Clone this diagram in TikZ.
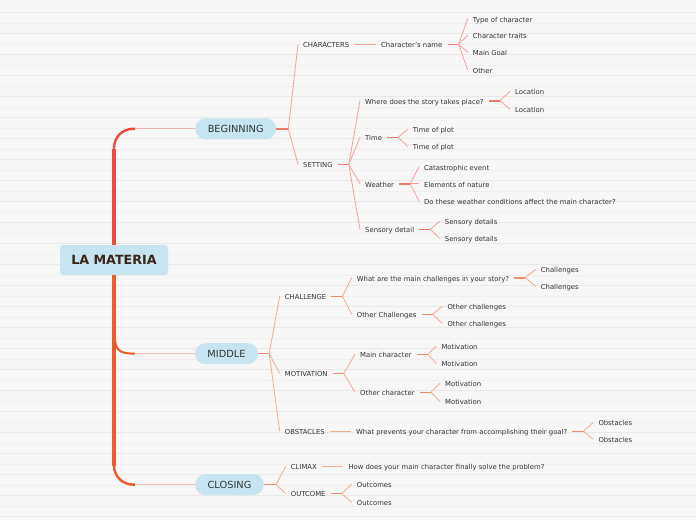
\documentclass[tikz,border=0pt]{standalone}
\usepackage{fontspec}
\setmainfont{DejaVu Sans}
\usetikzlibrary{positioning,calc}

\definecolor{bgcol}{HTML}{F7F7F7}
\definecolor{ruleA}{HTML}{E9E9E9}
\definecolor{ruleB}{HTML}{EFEFEF}
\definecolor{nodeblue}{HTML}{C6E5F0}
\definecolor{titlecol}{HTML}{3B2418}
\definecolor{textcol}{HTML}{333333}
\definecolor{trunkred}{HTML}{EF4A3E}
\definecolor{trunkorange}{HTML}{EF5A2A}
\definecolor{stemA}{HTML}{F6B2AA}
\definecolor{stemB}{HTML}{F7C4B0}
\definecolor{fanpink}{HTML}{F4A399}
\definecolor{junpink}{HTML}{F0776B}
\definecolor{fanorange}{HTML}{F6AC8E}
\definecolor{junorange}{HTML}{F28C6C}

\begin{document}
\begin{tikzpicture}[
    x=1pt, y=-1pt,
    root/.style={fill=nodeblue, rounded corners=3pt, minimum width=108pt, minimum height=30pt, text=titlecol, font=\fontsize{12.7}{14}\selectfont\bfseries},
    topic/.style={fill=nodeblue, rounded corners=10.5pt, minimum height=21pt, inner xsep=12.5pt, text=textcol, font=\fontsize{9.8}{12}\selectfont},
    leaf/.style={anchor=west, inner xsep=5pt, inner ysep=0pt, text height=6.6pt, text depth=0pt, text=textcol, font=\fontsize{6.85}{8}\selectfont},
    fanA/.style={draw=fanpink, line width=0.8pt},
    junA/.style={draw=junpink, line width=1.6pt},
    fanB/.style={draw=fanorange, line width=0.8pt},
    junB/.style={draw=junorange, line width=1.6pt},
    trunk/.style={line width=2.4pt, rounded corners=19pt}
]

% Background
\useasboundingbox (0,0) rectangle (696,520);
\fill[bgcol] (0,0) rectangle (696,520);
\foreach \i in {0,...,24} {
    \draw[ruleA, line width=0.6pt] (0,12.3+21*\i) -- (696,12.3+21*\i);
    \draw[ruleB, line width=0.6pt] (0,22.8+21*\i) -- (696,22.8+21*\i);
}

% Root and topics
\node[root] (materia) at (114,260) {LA MATERIA};
\node[topic] (beginning) at (235.7,128.8) {BEGINNING};
\node[topic] (middle) at (226.5,353.6) {MIDDLE};
\node[topic] (closing) at (229.5,484.6) {CLOSING};

% Trunk
\coordinate (bendA) at ($(beginning.west)+(-60,0)$);
\coordinate (bendB) at ($(middle.west)+(-60,0)$);
\coordinate (bendC) at ($(closing.west)+(-60,0)$);
\coordinate (turnA) at ($(materia.north)+(0,-96)$);
\coordinate (turnC) at ($(materia.south)+(0,191)$);
\coordinate (midfork) at ($(materia.south)+(1,62)$);
\draw[trunk, trunkred] (materia.north) |- (bendA);
\draw[trunkred, line width=4.4pt] (materia.north) -- (turnA);
\draw[trunk, trunkorange] (materia.south) |- (bendC);
\draw[trunkorange, line width=4.4pt] (materia.south) -- (turnC);
\draw[trunkorange, line width=2pt] (midfork) .. controls ($(midfork)+(0,14)$) and ($(bendB)+(-14,0)$) .. (bendB);
\draw[stemA, line width=1.3pt] (bendA) -- (beginning.west);
\draw[stemB, line width=1.3pt] (bendB) -- (middle.west);
\draw[stemB, line width=1.3pt] (bendC) -- (closing.west);

% Beginning
\node[leaf] (characters) at (298,44.3) {CHARACTERS};
\node[leaf] (setting) at (298,164.5) {SETTING};
\draw[junA] (beginning.east) -- ++(12,0) coordinate (jbeg);
\foreach \c in {characters,setting} \draw[fanA] (jbeg) -- (\c.west);

\node[leaf] (charname) at (376,44.3) {Character's name};
\draw[fanA] (characters.east) -- (charname.west);

\node[leaf] (typechar) at (467.7,18.7) {Type of character};
\node[leaf] (traits) at (467.7,35.3) {Character traits};
\node[leaf] (goal) at (467.7,52.3) {Main Goal};
\node[leaf] (other) at (467.7,70) {Other};
\draw[junA] (charname.east) -- ++(11,0) coordinate (jchar);
\foreach \c in {typechar,traits,goal,other} \draw[fanA] (jchar) -- (\c.west);

\node[leaf] (where) at (360,100.7) {Where does the story takes place?};
\node[leaf] (time) at (360,137.3) {Time};
\node[leaf] (weather) at (360,183.7) {Weather};
\node[leaf] (sensory) at (360,229.3) {Sensory detail};
\draw[junA] (setting.east) -- ++(11,0) coordinate (jset);
\foreach \c in {where,time,weather,sensory} \draw[fanA] (jset) -- (\c.west);

\node[leaf] (loc1) at (510,91.3) {Location};
\node[leaf] (loc2) at (510,109.3) {Location};
\draw[junA] (where.east) -- ++(11,0) coordinate (jwhere);
\foreach \c in {loc1,loc2} \draw[fanA] (jwhere) -- (\c.west);

\node[leaf] (plot1) at (407.7,129.3) {Time of plot};
\node[leaf] (plot2) at (407.7,146.3) {Time of plot};
\draw[junA] (time.east) -- ++(11,0) coordinate (jtime);
\foreach \c in {plot1,plot2} \draw[fanA] (jtime) -- (\c.west);

\node[leaf] (catastrophe) at (419,166.7) {Catastrophic event};
\node[leaf] (nature) at (419,183.7) {Elements of nature};
\node[leaf] (affect) at (419,201.3) {Do these weather conditions affect the main character?};
\draw[junA] (weather.east) -- ++(11,0) coordinate (jweather);
\foreach \c in {catastrophe,nature,affect} \draw[fanA] (jweather) -- (\c.west);

\node[leaf] (sens1) at (439.7,221.3) {Sensory details};
\node[leaf] (sens2) at (439.7,238.3) {Sensory details};
\draw[junA] (sensory.east) -- ++(11,0) coordinate (jsens);
\foreach \c in {sens1,sens2} \draw[fanA] (jsens) -- (\c.west);

% Middle
\node[leaf] (challenge) at (279.7,296.3) {CHALLENGE};
\node[leaf] (motivation) at (279.7,373.3) {MOTIVATION};
\node[leaf] (obstacles) at (279.7,431.3) {OBSTACLES};
\draw[junB] (middle.east) -- ++(11,0) coordinate (jmid);
\foreach \c in {challenge,motivation,obstacles} \draw[fanB] (jmid) -- (\c.west);

\node[leaf] (question) at (351.7,277.7) {What are the main challenges in your story?};
\node[leaf] (otherchal) at (351.7,314.3) {Other Challenges};
\draw[junB] (challenge.east) -- ++(11,0) coordinate (jchal);
\foreach \c in {question,otherchal} \draw[fanB] (jchal) -- (\c.west);

\node[leaf] (chal1) at (535.7,269.3) {Challenges};
\node[leaf] (chal2) at (535.7,286.3) {Challenges};
\draw[junB] (question.east) -- ++(11,0) coordinate (jquest);
\foreach \c in {chal1,chal2} \draw[fanB] (jquest) -- (\c.west);

\node[leaf] (othch1) at (442.3,306.3) {Other challenges};
\node[leaf] (othch2) at (442.3,323.3) {Other challenges};
\draw[junB] (otherchal.east) -- ++(11,0) coordinate (jothch);
\foreach \c in {othch1,othch2} \draw[fanB] (jothch) -- (\c.west);

\node[leaf] (maincha) at (355,354.3) {Main character};
\node[leaf] (otherchar) at (355,392.3) {Other character};
\draw[junB] (motivation.east) -- ++(11,0) coordinate (jmot);
\foreach \c in {maincha,otherchar} \draw[fanB] (jmot) -- (\c.west);

\node[leaf] (motiv1) at (436.3,346.3) {Motivation};
\node[leaf] (motiv2) at (436.3,363.3) {Motivation};
\draw[junB] (maincha.east) -- ++(11,0) coordinate (jmain);
\foreach \c in {motiv1,motiv2} \draw[fanB] (jmain) -- (\c.west);

\node[leaf] (motiv3) at (440,383.3) {Motivation};
\node[leaf] (motiv4) at (440,401.3) {Motivation};
\draw[junB] (otherchar.east) -- ++(11,0) coordinate (jochar);
\foreach \c in {motiv3,motiv4} \draw[fanB] (jochar) -- (\c.west);

\node[leaf] (prevents) at (351,431.3) {What prevents your character from accomplishing their goal?};
\draw[fanB] (obstacles.east) -- (prevents.west);

\node[leaf] (obst1) at (593.3,422.3) {Obstacles};
\node[leaf] (obst2) at (593.3,439.3) {Obstacles};
\draw[junB] (prevents.east) -- ++(11,0) coordinate (jprev);
\foreach \c in {obst1,obst2} \draw[fanB] (jprev) -- (\c.west);

% Closing
\node[leaf] (climax) at (285.7,466.3) {CLIMAX};
\node[leaf] (outcome) at (285.7,493.5) {OUTCOME};
\draw[junB] (closing.east) -- ++(12,0) coordinate (jclose);
\foreach \c in {climax,outcome} \draw[fanB] (jclose) -- (\c.west);

\node[leaf] (solve) at (343.3,466.3) {How does your main character finally solve the problem?};
\draw[fanB] (climax.east) -- (solve.west);

\node[leaf] (outc1) at (351.7,484.3) {Outcomes};
\node[leaf] (outc2) at (351.7,502.3) {Outcomes};
\draw[junB] (outcome.east) -- ++(11,0) coordinate (jout);
\foreach \c in {outc1,outc2} \draw[fanB] (jout) -- (\c.west);

\end{tikzpicture}
\end{document}
